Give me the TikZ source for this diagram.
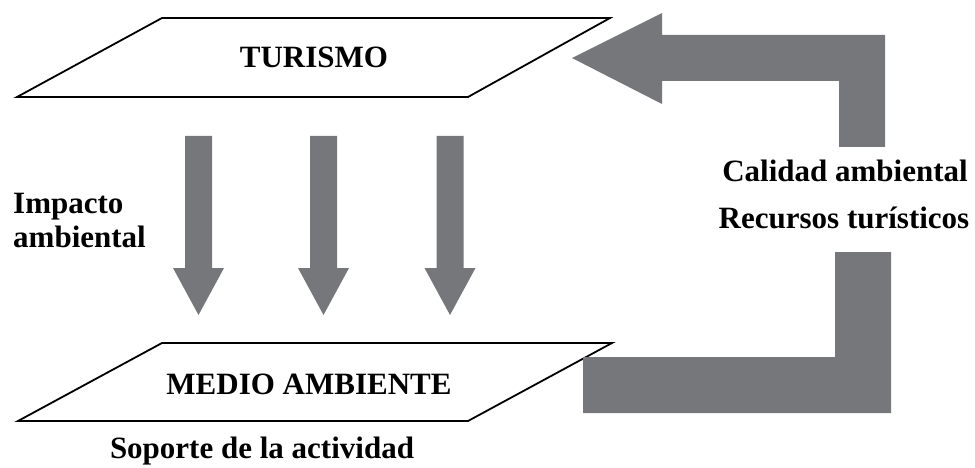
\documentclass[tikz,border=0pt]{standalone}
\usepackage{fontspec}
\setmainfont{Liberation Serif}
\begin{document}
\begin{tikzpicture}[x=1pt,y=-1pt,
  plane/.style={draw=black,line width=1.8pt,line join=miter,fill=white},
  blockarrow/.style={fill=arrowgray,draw=none},
  lbl/.style={font=\fontsize{31}{36}\selectfont\bfseries,inner sep=0pt,anchor=base}]
\definecolor{arrowgray}{RGB}{118,119,123}
\useasboundingbox (0,0) rectangle (975,468);
% planes
\draw[plane] (162,18) -- (610,18) -- (468,97) -- (17,97) -- cycle;
\draw[plane] (162,343) -- (612,343) -- (468,421) -- (18,421) -- cycle;
\node[lbl] (tur) at (314,68) {TURISMO};
\node[lbl] (med) at (309,394) {MEDIO AMBIENTE};
\node[lbl] (sop) at (262,458) {Soporte de la actividad};
% impact arrows
\foreach \cx/\nm in {198.5/a1,323.5/a2,450/a3}{
  \fill[blockarrow] (\cx-13.5,136) -- (\cx+13.5,136) -- (\cx+13.5,268) -- (\cx+25.5,268)
     -- (\cx,315) -- (\cx-25.5,268) -- (\cx-13.5,268) -- cycle;
}
\node[lbl,anchor=base west] (imp1) at (13,213) {Impacto};
\node[lbl,anchor=base west] (imp2) at (13,247) {ambiental};
% return arrows
\fill[blockarrow] (572,58) -- (662,13) -- (662,35) -- (885,35) -- (885,147) -- (839,147)
   -- (839,81) -- (662,81) -- (662,104) -- cycle;
\fill[blockarrow] (835,252) -- (891,252) -- (891,413) -- (583,413) -- (583,357) -- (835,357) -- cycle;
\node[lbl] (cal) at (845,182) {Calidad ambiental};
\node[lbl] (rec) at (844,228) {Recursos turísticos};
\end{tikzpicture}
\end{document}
